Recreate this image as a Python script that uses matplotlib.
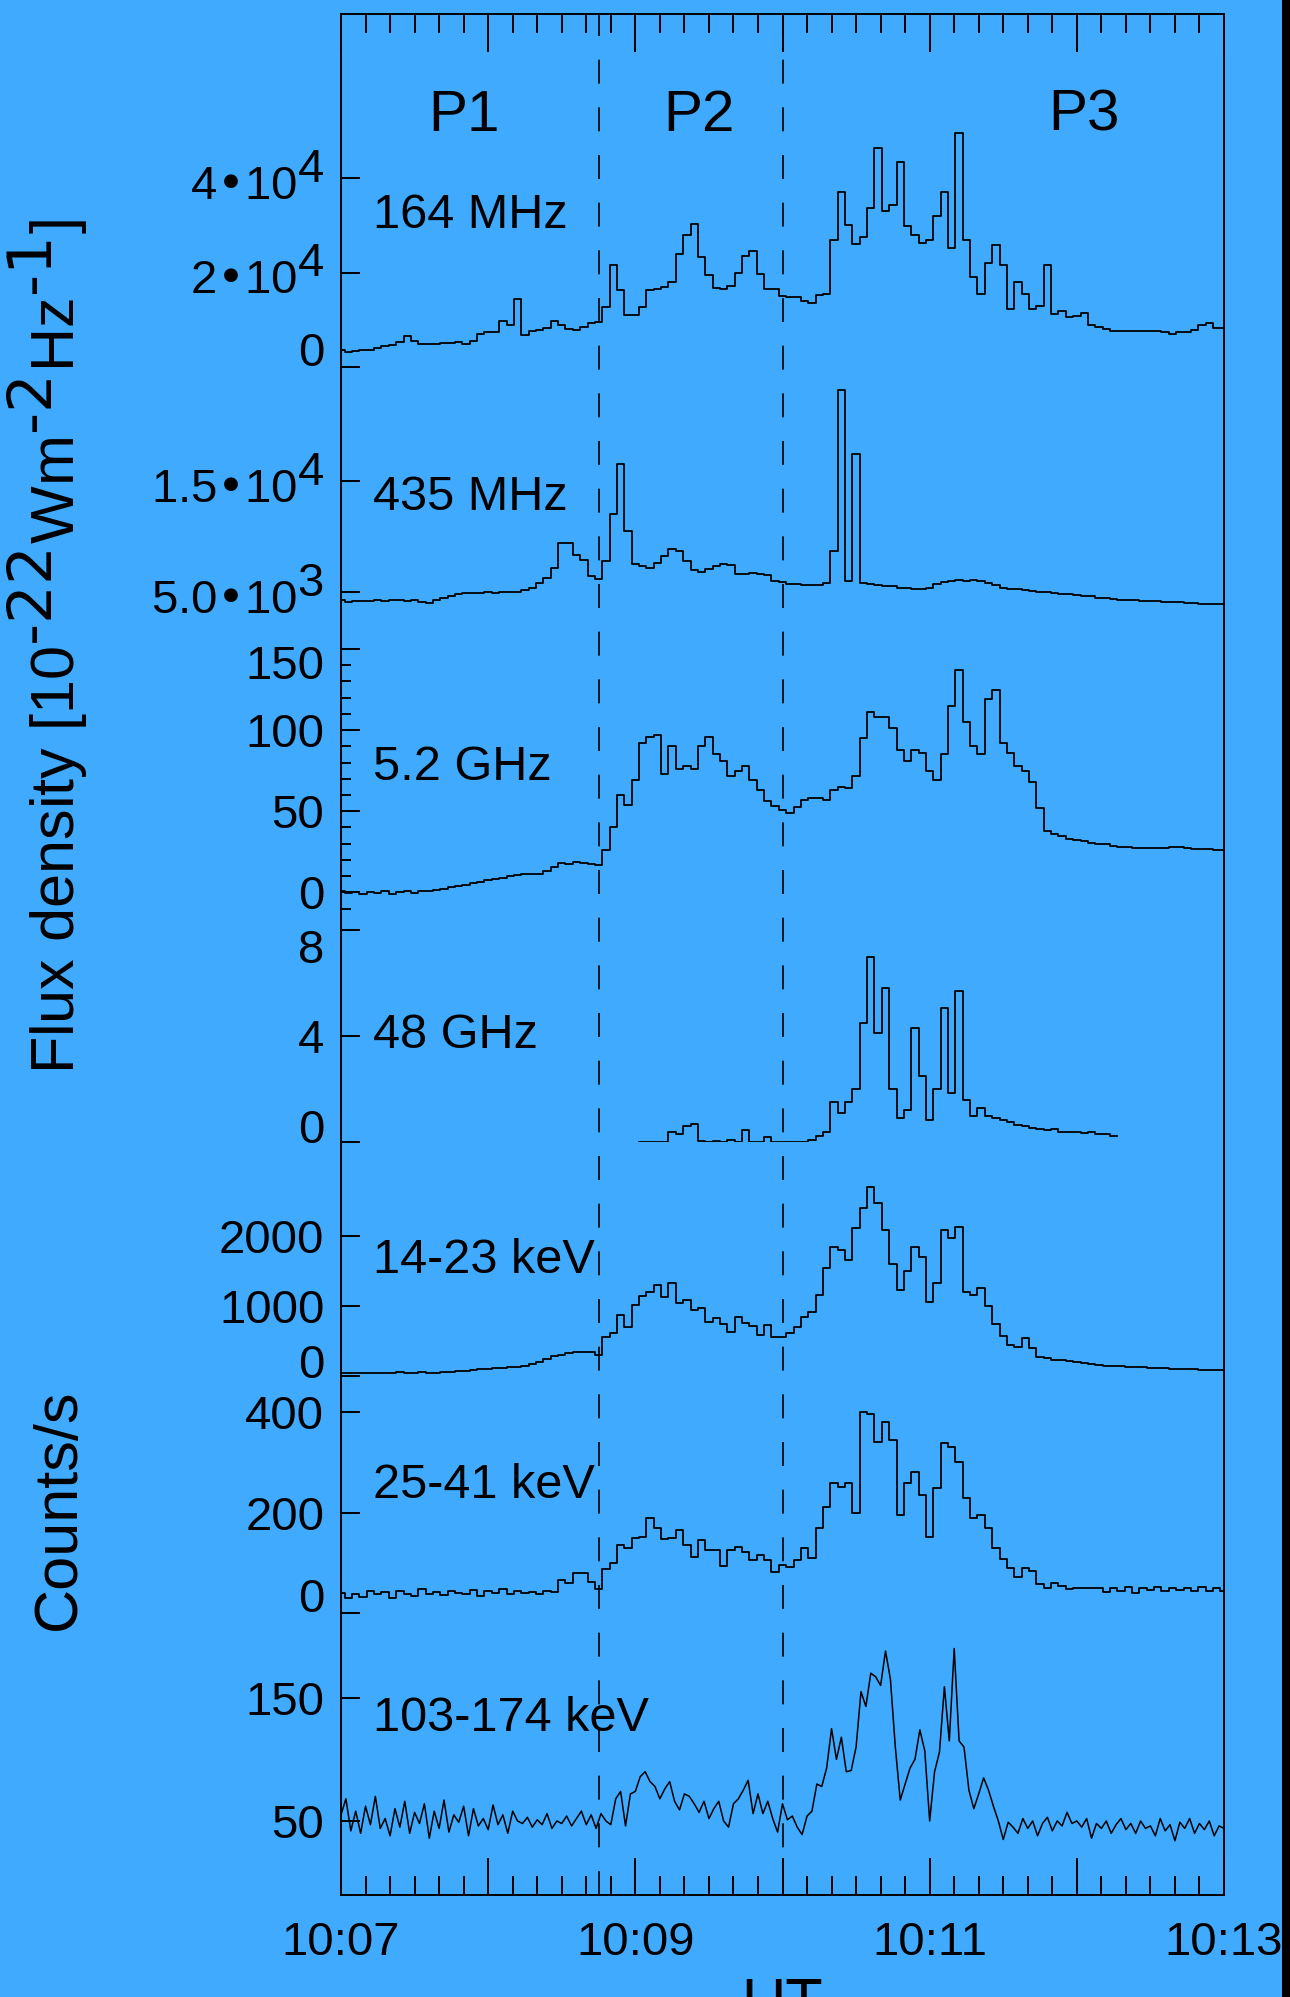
"""
Stacked radio / hard X-ray light curves, 10:07-10:13 UT, with P1-P3 phases.
Output: out.png
"""

import numpy as np
import matplotlib
matplotlib.use("Agg")
import matplotlib.pyplot as plt
import matplotlib._mathtext as _mt
from matplotlib.ticker import FixedLocator
from matplotlib.transforms import ScaledTranslation, blended_transform_factory
from matplotlib.patches import Rectangle

_mt.SHRINK_FACTOR = 1.0   # IDL look: superscripts as big as the base text

plt.rcParams['font.family'] = ['Liberation Sans', 'DejaVu Sans']
plt.rcParams['mathtext.default'] = 'regular'

# ---------------- data ----------------
# time in seconds after 10:07:00 UT, 3 s bins (2 s for the 103-174 keV channel)
t = np.arange(0, 361, 3)
t2 = np.arange(0, 361, 2)

x_ticks = [0, 60, 120, 180, 240, 300, 360]
x_labels = ['10:07', '', '10:09', '', '10:11', '', '10:13']
phase_bounds = [105, 180]            # 10:08:45 and 10:10:00
phase_names = ['P1', 'P2', 'P3']
phase_centres = [50, 146, 303]

names = ['164 MHz', '435 MHz', '5.2 GHz', '48 GHz',
         '14-23 keV', '25-41 keV', '103-174 keV']

# flux density, 10^3 SFU
f164 = np.array([
    3.5, 3.2, 3.3, 3.6, 3.5, 4.0, 4.4, 4.6, 5.2, 6.5, 5.5, 4.9, 4.8, 4.9, 5.1, 5.0, 5.2, 4.9, 5.6, 7.0,
    7.5, 7.4, 9.7, 9.0, 14.5, 6.8, 7.6, 7.8, 8.2, 9.7, 9.0, 8.0, 7.9, 8.5, 9.3, 9.6, 12.7, 21.6, 16.3, 11.0,
    11.0, 12.7, 16.3, 16.5, 17.0, 18.0, 24.0, 28.0, 30.3, 23.3, 19.5, 16.7, 16.5, 17.2, 20.0, 23.5, 24.6, 19.8, 16.5, 16.5,
    15.0, 14.8, 14.8, 14.0, 13.5, 15.3, 15.5, 27.0, 37.2, 30.1, 26.0, 27.5, 33.7, 46.4, 33.0, 34.3, 43.5, 29.8, 28.0, 26.3,
    27.0, 32.0, 37.2, 25.2, 49.5, 27.0, 19.0, 15.5, 22.0, 25.9, 21.6, 12.4, 18.1, 15.5, 12.4, 13.0, 21.6, 11.2, 11.8, 10.5,
    10.8, 11.4, 8.8, 8.4, 8.0, 7.7, 7.6, 7.6, 7.7, 7.6, 7.6, 7.6, 7.4, 7.1, 7.4, 7.5, 7.8, 8.9, 9.3, 8.2, 8.2]) * 1e3

f435 = np.array([
    4.3, 4.1, 4.2, 4.2, 4.2, 4.3, 4.2, 4.3, 4.3, 4.2, 4.3, 4.1, 4.0, 4.3, 4.5, 4.6, 4.8, 4.9, 4.9, 4.9,
    5.0, 4.9, 5.0, 5.0, 5.0, 5.2, 5.4, 5.8, 6.3, 7.2, 9.4, 9.4, 8.3, 7.9, 6.4, 6.2, 7.8, 12.0, 16.5, 10.5,
    7.5, 7.3, 7.2, 7.6, 8.2, 8.9, 8.7, 7.8, 7.0, 6.8, 7.1, 7.3, 7.5, 7.4, 6.6, 6.6, 6.7, 6.6, 6.5, 6.0,
    5.9, 5.7, 5.7, 5.6, 5.6, 5.6, 5.8, 8.7, 23.2, 6.0, 17.4, 5.8, 5.7, 5.6, 5.5, 5.5, 5.4, 5.4, 5.3, 5.3,
    5.4, 5.7, 5.9, 6.0, 6.1, 6.0, 6.1, 6.0, 5.8, 5.6, 5.4, 5.3, 5.3, 5.2, 5.1, 5.0, 5.0, 4.9, 4.8, 4.8,
    4.7, 4.6, 4.6, 4.5, 4.5, 4.4, 4.3, 4.3, 4.3, 4.2, 4.2, 4.2, 4.1, 4.1, 4.1, 4.0, 4.0, 3.9, 3.9, 3.9, 3.9]) * 1e3

f5g = np.array([
    0.5, -0.5, 0.3, -1.0, 0.2, -0.5, 0.5, -0.8, 0.3, 0.5, -0.5, 0.5, 0.8, 1.5, 2.2, 3.0, 3.9, 4.8, 5.5, 6.5,
    7.5, 8.4, 9.0, 10.0, 10.5, 11.0, 11.2, 11.5, 13.0, 15.5, 18.0, 17.5, 18.7, 18.0, 17.5, 16.6, 26.0, 40.0, 60.0, 54.0,
    69.0, 92.0, 96.0, 97.0, 73.0, 90.0, 76.0, 78.0, 76.0, 90.0, 96.0, 85.0, 81.0, 72.0, 75.0, 78.0, 69.0, 63.0, 56.0, 53.0,
    50.7, 48.7, 52.8, 57.0, 58.0, 58.0, 57.0, 63.0, 65.0, 64.0, 72.0, 95.0, 111.0, 108.0, 108.0, 101.0, 87.7, 81.0, 88.0, 86.0,
    75.0, 69.0, 85.0, 115.0, 137.0, 105.0, 90.0, 85.0, 119.0, 125.0, 92.0, 86.0, 78.0, 75.0, 68.0, 52.0, 38.0, 36.0, 34.5, 33.0,
    32.0, 31.5, 30.7, 30.0, 29.5, 28.8, 28.1, 28.0, 27.5, 27.3, 27.5, 27.3, 27.5, 27.9, 27.9, 27.3, 26.8, 26.5, 26.8, 26.1, 26.1])

nan = np.nan
f48 = np.array([nan] * 41 + [
    0.0, 0.0, 0.0, 0.0, 0.4, 0.3, 0.6, 0.7, 0.05, 0.0, 0.05, 0.0, 0.1, 0.0, 0.45, 0.0, 0.0, 0.2, 0.0,
    0.0, 0.0, 0.0, 0.0, 0.1, 0.25, 0.4, 1.5, 1.1, 1.5, 2.0, 4.5, 7.0, 4.1, 5.8, 2.0, 0.9, 1.2, 4.3, 2.5,
    0.84, 2.0, 5.05, 1.85, 5.7, 1.6, 1.0, 1.3, 1.0, 0.9, 0.84, 0.75, 0.65, 0.6, 0.55, 0.5, 0.45, 0.5, 0.4, 0.4,
    0.4, 0.35, 0.4, 0.3, 0.3, 0.25] + [nan] * 15)

# count rates, counts/s
h14 = np.array([
    40, 50, 45, 40, 50, 45, 50, 50, 55, 50, 45, 55, 50, 50, 55, 60, 70, 75, 85, 95,
    100, 115, 120, 130, 135, 150, 170, 200, 240, 280, 305, 330, 340, 345, 340, 300, 560, 620, 874, 706,
    1017, 1140, 1208, 1304, 1137, 1328, 1042, 1089, 946, 970, 780, 827, 740, 635, 850, 755, 720, 588, 731, 560,
    560, 620, 700, 850, 921, 1161, 1543, 1853, 1805, 1662, 2116, 2403, 2713, 2475, 2092, 1600, 1232, 1500, 1853, 1700,
    1065, 1328, 2092, 1973, 2140, 1208, 1161, 1257, 1000, 750, 580, 450, 420, 545, 400, 272, 260, 235, 225, 210,
    200, 185, 170, 160, 150, 145, 140, 135, 133, 125, 120, 115, 110, 105, 100, 100, 95, 90, 88, 86, 85])

h25 = np.array([
    40, 30, 38, 33, 45, 38, 42, 30, 45, 38, 35, 48, 38, 42, 36, 45, 40, 38, 46, 35,
    44, 40, 48, 38, 45, 40, 42, 38, 44, 42, 66, 60, 81, 81, 63, 48, 88, 100, 136, 130,
    149, 152, 190, 170, 148, 149, 165, 135, 113, 146, 126, 126, 95, 126, 133, 123, 106, 116, 106, 83,
    96, 93, 106, 130, 110, 170, 212, 260, 252, 260, 200, 400, 397, 340, 380, 344, 196, 260, 280, 235,
    152, 250, 338, 330, 300, 229, 190, 195, 170, 130, 108, 90, 72, 90, 85, 58, 50, 60, 55, 48,
    51, 50, 51, 50, 42, 50, 45, 52, 40, 50, 46, 52, 44, 50, 46, 50, 45, 52, 44, 50, 45])

h103 = np.array([
    55, 68, 42, 58, 40, 62, 47, 70, 44, 52, 38, 60, 45, 66, 40, 57, 48, 64, 36, 58,
    44, 67, 41, 55, 49, 62, 38, 60, 46, 52, 43, 63, 47, 55, 40, 58, 50, 48, 53, 45,
    51, 47, 56, 44, 50, 48, 54, 46, 52, 58, 47, 55, 44,
    56, 50, 47, 68, 74, 46, 72, 74, 86, 90, 82, 78, 68, 76, 82, 66, 59, 72, 70, 64,
    57, 66, 52, 60, 66, 50, 45, 64, 68, 75, 83, 56, 72, 56, 66, 52, 41, 64,
    51, 54, 45, 39, 54, 58, 80, 78, 93, 125, 100, 118, 90, 91, 110, 155, 143, 170, 167, 160,
    188, 165, 110, 67, 80, 93, 100, 124, 107, 50,
    90, 106, 159, 115, 190, 115, 110, 75, 60, 72, 85, 75, 62, 50, 35, 49, 45, 40, 52, 44,
    50, 38, 48, 53, 42, 50, 46, 57, 48, 50,
    45, 52, 36, 48, 44, 50, 40, 47, 52, 43, 48, 40, 50, 44, 46, 38, 52, 42, 47, 34,
    49, 44, 52, 40, 48, 43, 50, 38, 46, 44])

series = [f164, f435, f5g, f48, h14, h25, h103]
times = [t, t, t, t, t, t, t2]

yticks = [[0, 2e4, 4e4], [5e3, 1.5e4], [0, 50, 100, 150], [0, 4, 8],
          [0, 1000, 2000], [0, 200, 400], [50, 150]]
yticklabels = [['0', '2•10$^4$', '4•10$^4$'], ['5.0•10$^3$', '1.5•10$^4$'],
               ['0', '50', '100', '150'], ['0', '4', '8'],
               ['0', '1000', '2000'], ['0', '200', '400'], ['50', '150']]
yminor = [[], [], [-10, 10, 20, 30, 40, 60, 70, 80, 90, 110, 120, 130, 140],
          [], [], [], []]

# ---------------- layout ----------------
BG = '#3FAAFE'
W, H = 1290, 1997
L, TOP, R, BOT = 341, 14, 1224, 1895          # frame, pixels
# per strip: two (value, pixel row) reference points and the y range
CAL = [
    ((0, 367.0), (4e4, 178.3), (-2500, 52000)),
    ((5e3, 592.0), (1.5e4, 481.0), (3000, 25000)),
    ((0, 892.3), (150, 649.0), (-15, 150)),
    ((0, 1142.3), (8, 930.0), (0, 8)),
    ((0, 1376.0), (2000, 1236.4), (-50, 2800)),
    ((0, 1613.5), (400, 1412.0), (-10, 450)),
    ((50, 1821.0), (150, 1697.8), (20, 200)),
]
SHIFT_PX = [{0: 18}, {}, {150: -13}, {0: 16, 8: -16}, {0: 15}, {0: 18}, {}]
NAME_Y = [29500, 12390, 69, 3.56, 1476, 230, 123]   # baseline, strip units

fig = plt.figure(figsize=(W / 100, H / 100), dpi=100, facecolor=BG)

ax = fig.add_axes([L / W, 1 - BOT / H, (R - L) / W, (BOT - TOP) / H], facecolor=BG)
ax.set_xlim(0, 360)
ax.set_ylim(0, 1)
ax.set_yticks([])
ax.xaxis.set_major_locator(FixedLocator(x_ticks))
ax.set_xticklabels(x_labels)
ax.xaxis.set_minor_locator(FixedLocator(np.arange(0, 361, 10)))
ax.tick_params(axis='x', which='both', direction='in', top=True, bottom=True,
               width=1.4, labelsize=34, pad=19)
ax.tick_params(axis='x', which='major', length=27)
ax.tick_params(axis='x', which='minor', length=14)
for sp in ax.spines.values():
    sp.set_linewidth(1.4)
ax.set_xlabel('UT', fontsize=44)
ax.xaxis.set_label_coords(0.5, -0.0434)

for xb in phase_bounds:
    ax.axvline(xb, color='black', lw=1.2, ls=(0, (14.4, 14.2)))

trans = blended_transform_factory(ax.transData, ax.transAxes)
for name, xc in zip(phase_names, phase_centres):
    ax.text(xc, 0.9378, name, transform=trans, ha='center', va='baseline', fontsize=42)

for k in range(7):
    (v0, p0), (v1, p1), (lo, hi) = CAL[k]
    s = (p1 - p0) / (v1 - v0)
    top = p0 + (hi - v0) * s
    bot = p0 + (lo - v0) * s
    pax = fig.add_axes([L / W, 1 - bot / H, (R - L) / W, (bot - top) / H], facecolor='none')
    pax.set_xlim(0, 360)
    pax.set_ylim(lo, hi)
    for sp in pax.spines.values():
        sp.set_visible(False)
    pax.set_xticks([])
    pax.set_yticks(yticks[k])
    pax.set_yticklabels(yticklabels[k])
    pax.set_yticks(yminor[k], minor=True)
    pax.tick_params(axis='y', which='both', direction='in', left=True,
                    width=1.4, labelsize=34, pad=12)
    pax.tick_params(axis='y', which='major', length=13.5)
    pax.tick_params(axis='y', which='minor', length=7)
    for val, tick in zip(yticks[k], pax.yaxis.get_major_ticks()):
        dy = SHIFT_PX[k].get(val, 0)
        if dy:
            tick.label1.set_transform(tick.label1.get_transform()
                                      + ScaledTranslation(0, dy / 100, fig.dpi_scale_trans))

    if k == 6:
        pax.plot(times[k], series[k], color='black', lw=1.1)
    else:
        pax.plot(times[k], series[k], color='black', lw=1.3, drawstyle='steps-mid')
    pax.text(13, NAME_Y[k], names[k], fontsize=35, ha='left', va='baseline')

fig.text(75 / W, 1 - 647 / H,
         r'Flux density [10$^{\text{-22}}$Wm$^{\text{-2}}$Hz$^{\text{-1}}$]',
         rotation=90, rotation_mode='anchor', ha='center', va='baseline', fontsize=44)
fig.text(75 / W, 1 - 1509 / H, 'Counts/s',
         rotation=90, rotation_mode='anchor', ha='center', va='baseline', fontsize=44)

# dark strip along the right edge of the scan
fig.add_artist(Rectangle((1282 / W, 0), 8 / W, 1, transform=fig.transFigure,
                         facecolor='black', edgecolor='none'))

plt.savefig('out.png', dpi=100, facecolor=BG)
print("Saved: out.png")
